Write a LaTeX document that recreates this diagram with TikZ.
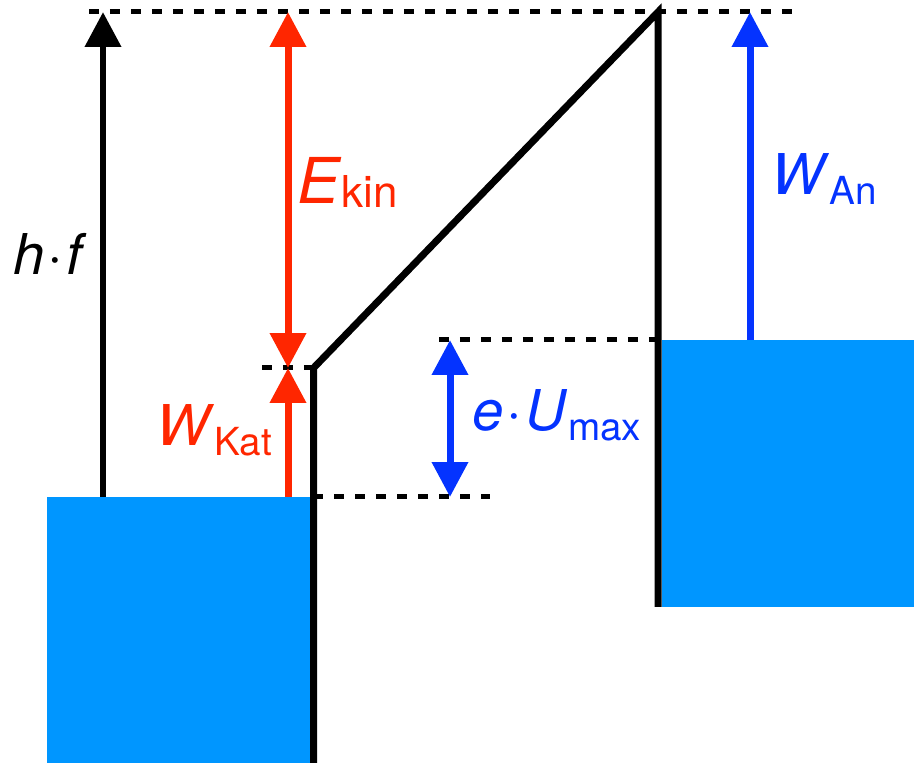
\documentclass[tikz,border=0pt]{standalone}
\usepackage{fontspec}
\setmainfont{TeX Gyre Heros}
\usetikzlibrary{arrows.meta,positioning}
\definecolor{cRed}  {RGB}{255, 38,  0}
\definecolor{cBlue} {RGB}{  4, 51,255}
\definecolor{cMetal}{RGB}{  0,150,255}
\newcommand{\sym}[1]{\textit{#1}}
\newcommand{\cdotsep}{\kern0.06em·\kern0.06em}
\newcommand{\idx}[1]{\raisebox{-0.2cm}{\fontsize{22}{24}\selectfont #1}}
\tikzset{
  wall/.style   = {black, line width=0.14cm},
  metal/.style  = {fill=cMetal, draw=none},
  level/.style  = {black, line width=0.1cm, dash pattern=on 0.2cm off 0.22cm},
  up/.style     = {line width=0.14cm, -{Triangle[length=0.7cm,width=0.7cm]}},
  both/.style   = {line width=0.14cm,
                   {Triangle[length=0.7cm,width=0.7cm]}-{Triangle[length=0.7cm,width=0.7cm]}},
  lbl/.style    = {font=\fontsize{32}{34}\selectfont, inner sep=0pt, anchor=base west},
}
\begin{document}
\begin{tikzpicture}[x=0.02cm, y=-0.02cm]
  \useasboundingbox (0,0) rectangle (914,763);

  % metal blocks: cathode (left) and anode (right)
  \fill[metal] (47,497) rectangle (310,763);
  \fill[metal] (662,340) rectangle (914,607);

  % energy levels
  \coordinate (photon) at (89,12);
  \coordinate (vacK)   at (313.5,368);
  \coordinate (vacA)   at (658,12);
  \coordinate (fermiK) at (313.5,497);
  \coordinate (fermiA) at (658,340);

  \draw[level] (photon) -- (792,12);
  \draw[level] (262,368) -- (vacK);
  \draw[level] (fermiK) -- (490,497);
  \draw[level] (439,340) -- (fermiA);

  % potential walls
  \draw[wall] (313.5,763) -- (vacK) -- (vacA) -- (658,607);

  % arrows
  \coordinate (hfB) at (103,497);  \coordinate (hfT) at (103,12);
  \coordinate (ekT) at (288,12);   \coordinate (ekB) at (288,368);
  \coordinate (wkB) at (288,497);
  \coordinate (euT) at (450,340);  \coordinate (euB) at (450,497);
  \coordinate (waB) at (750,340);  \coordinate (waT) at (750,12);

  \draw[up, black] (hfB) -- (hfT);
  \draw[both, cRed] (ekT) -- (ekB);
  \draw[up, cRed] (wkB) -- (ekB);
  \draw[both, cBlue] (euT) -- (euB);
  \draw[up, cBlue] (waB) -- (waT);

  % labels
  \node[lbl] (hf) at (13,275) {\sym{h}\cdotsep\sym{f}};
  \node[lbl, text=cRed, font=\fontsize{36}{38}\selectfont] (ekin) at (297,204)
       {\sym{E}\raisebox{-0.08cm}{\fontsize{25}{27}\selectfont kin}};
  \node[lbl, text=cRed] (wkat) at (156,446) {\sym{W}\idx{Kat}};
  \node[lbl, text=cBlue] (eu) at (472,431) {\sym{e}\cdotsep\sym{U}\idx{max}};
  \node[lbl, text=cBlue] (wan) at (771,195) {\sym{W}\idx{An}};
\end{tikzpicture}
\end{document}
